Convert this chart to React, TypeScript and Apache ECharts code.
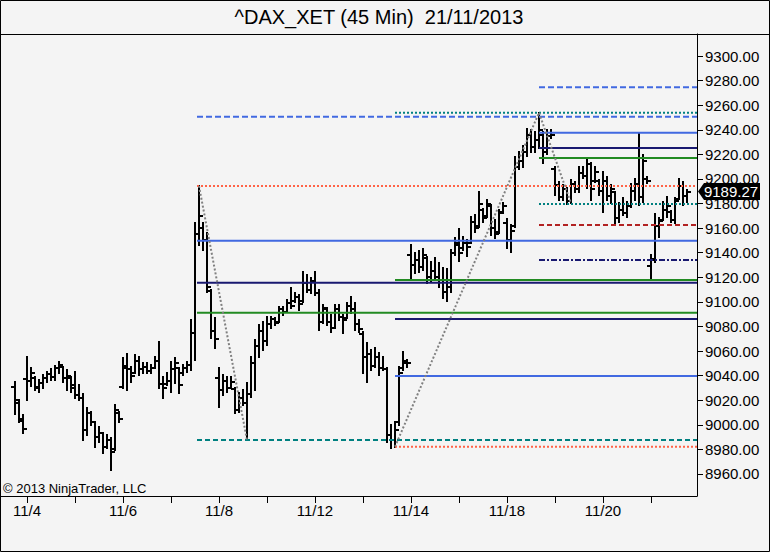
import React, { useEffect, useRef } from 'react';
import * as echarts from 'echarts';

const TITLE = '^DAX_XET (45 Min)\u00a0 21/11/2013';
const COPYRIGHT = '\u00a9 2013 NinjaTrader, LLC';

// trading days (first bar index of each day) and their labels
const dayStarts = [3, 15, 27, 39, 51, 63, 75, 87, 99, 111, 123, 135, 147, 159];
const dayLabels = ['11/4', '11/5', '11/6', '11/7', '11/8', '11/11', '11/12', '11/13', '11/14', '11/15', '11/18', '11/19', '11/20', '11/21'];
const labeledDays = ['11/4', '11/6', '11/8', '11/12', '11/14', '11/18', '11/20'];

const priceTicks = [8960, 8980, 9000, 9020, 9040, 9060, 9080, 9100, 9120, 9140, 9160, 9180, 9200, 9220, 9240, 9260, 9280, 9300];

// 45-min OHLC bars
const opens = [
  9031, 9018, 9003, 9037, 9036, 9038, 9030, 9034, 9038, 9041, 9039, 9046, 9047, 9038, 9038, 9032, 9024, 9022, 8996, 9010,
  9002, 8990, 8993, 8982, 8988, 8980, 9010, 9031, 9046, 9045, 9042, 9052, 9045, 9047, 9044, 9046, 9052, 9033, 9033, 9036,
  9045, 9046, 9042, 9046, 9049, 9075, 9155, 9160, 9150, 9109, 9076, 9038, 9028, 9036, 9030, 9029, 9012, 9022, 9018, 9025,
  9050, 9064, 9076, 9068, 9082, 9086, 9084, 9094, 9092, 9099, 9101, 9104, 9101, 9115, 9110, 9117, 9107, 9084, 9094, 9084,
  9079, 9094, 9088, 9087, 9097, 9094, 9082, 9074, 9055, 9058, 9048, 9055, 9046, 9045, 8992, 8988, 9002, 9046, 9050, 9138,
  9130, 9134, 9128, 9136, 9120, 9125, 9120, 9118, 9108, 9112, 9140, 9146, 9144, 9148, 9148, 9165, 9162, 9175, 9170, 9178,
  9160, 9157, 9173, 9164, 9150, 9162, 9210, 9215, 9222, 9236, 9226, 9232, 9236, 9222, 9235, 9208, 9195, 9185, 9192, 9182,
  9196, 9192, 9205, 9202, 9212, 9198, 9198, 9190, 9198, 9186, 9189, 9168, 9175, 9172, 9178, 9190, 9196, 9185, 9200, 9129,
  9135, 9162, 9167, 9175, 9173, 9167, 9184, 9194, 9186,
];
const highs = [
  9034.6, 9020.2, 9008.0, 9054.9, 9046.5, 9039.1, 9036.5, 9040.5, 9042.7, 9045.4, 9048.1, 9050.9, 9047.3, 9044.6, 9039.1, 9043.2, 9032.4, 9024.8, 9013.4, 9010.7,
  9002.5, 8998.5, 8993.1, 8991.7, 8989.0, 9016.1, 9010.7, 9054.1, 9058.0, 9047.3, 9056.8, 9055.4, 9050.0, 9050.0, 9048.6, 9055.4, 9067.6, 9039.1, 9041.9, 9051.3,
  9054.1, 9046.0, 9048.6, 9051.3, 9085.3, 9163.9, 9194.3, 9163.9, 9155.8, 9109.7, 9086.6, 9046.0, 9040.5, 9039.1, 9039.1, 9029.7, 9025.6, 9028.3, 9033.8, 9055.4,
  9069.0, 9081.2, 9083.9, 9087.9, 9087.9, 9086.6, 9096.1, 9096.1, 9101.5, 9111.0, 9106.9, 9105.6, 9124.5, 9121.9, 9119.2, 9124.5, 9109.7, 9097.5, 9094.8, 9089.3,
  9097.5, 9097.5, 9089.3, 9098.8, 9104.2, 9098.8, 9085.3, 9075.7, 9066.3, 9060.9, 9062.2, 9058.2, 9055.4, 9046.0, 8999.8, 9002.5, 9047.3, 9059.5, 9052.7, 9146.3,
  9139.5, 9141.4, 9143.0, 9136.7, 9132.7, 9135.4, 9131.4, 9127.3, 9126.8, 9142.2, 9151.7, 9159.3, 9153.0, 9150.3, 9169.3, 9170.7, 9189.1, 9175.5, 9182.9, 9178.8,
  9166.6, 9174.7, 9180.2, 9167.4, 9162.5, 9218.1, 9222.2, 9227.0, 9240.6, 9239.8, 9238.4, 9253.9, 9238.4, 9239.8, 9239.8, 9210.0, 9197.8, 9195.0, 9192.4, 9199.1,
  9197.8, 9210.0, 9210.0, 9216.8, 9212.7, 9210.0, 9199.1, 9205.9, 9201.8, 9195.0, 9189.6, 9180.2, 9184.2, 9181.5, 9195.6, 9199.9, 9237.1, 9219.5, 9201.8, 9138.1,
  9171.2, 9168.5, 9181.5, 9185.6, 9173.9, 9184.2, 9199.9, 9197.8, 9191.0,
];
const lows = [
  9008.8, 9002.5, 8993.1, 9020.2, 9031.8, 9028.3, 9026.9, 9030.2, 9034.6, 9036.5, 9036.5, 9041.9, 9035.1, 9028.3, 9026.9, 9021.6, 9020.2, 8987.6, 8991.7, 8999.8,
  8982.2, 8986.3, 8976.8, 8980.9, 8963.2, 8979.5, 9002.5, 9029.7, 9028.3, 9035.1, 9041.9, 9040.5, 9041.9, 9041.9, 9041.9, 9045.9, 9029.7, 9021.6, 9032.4, 9026.9,
  9033.8, 9025.6, 9040.5, 9043.2, 9044.6, 9052.7, 9146.3, 9142.2, 9108.3, 9070.4, 9062.2, 9014.7, 9024.3, 9026.9, 9029.7, 9009.4, 9010.7, 9016.1, 8987.6, 9022.9,
  9028.3, 9055.4, 9060.9, 9064.9, 9078.5, 9081.2, 9083.9, 9089.3, 9092.0, 9094.8, 9100.2, 9093.4, 9100.2, 9108.3, 9107.0, 9105.6, 9077.1, 9082.5, 9081.2, 9075.7,
  9078.5, 9085.3, 9074.4, 9086.6, 9090.7, 9077.1, 9075.7, 9041.9, 9035.1, 9044.6, 9047.3, 9040.5, 9044.6, 8986.3, 8980.9, 8982.2, 8999.8, 9044.6, 9047.3, 9119.2,
  9123.2, 9124.5, 9125.9, 9115.1, 9116.4, 9117.8, 9112.3, 9103.4, 9100.7, 9108.3, 9138.1, 9133.2, 9142.2, 9137.5, 9147.6, 9157.1, 9161.1, 9165.2, 9169.3, 9154.4,
  9152.2, 9155.8, 9172.0, 9144.1, 9140.8, 9161.1, 9208.0, 9210.0, 9218.9, 9221.7, 9222.2, 9225.0, 9212.7, 9220.0, 9233.0, 9186.9, 9182.9, 9182.9, 9179.4, 9180.2,
  9189.6, 9189.6, 9200.5, 9192.4, 9182.9, 9197.8, 9186.9, 9173.3, 9182.9, 9180.2, 9163.9, 9165.2, 9170.7, 9169.3, 9177.4, 9182.9, 9178.8, 9181.5, 9196.4, 9119.2,
  9132.7, 9153.0, 9166.6, 9169.3, 9164.7, 9163.9, 9183.7, 9178.8, 9181.5,
];
const closes = [
  9020, 9005, 8997, 9036, 9042, 9031, 9034, 9038, 9041, 9039, 9046, 9049, 9038, 9040, 9030, 9024, 9022, 8996, 9010, 9002,
  8990, 8993, 8982, 8988, 8978, 9012, 9005, 9048, 9045, 9040, 9052, 9045, 9047, 9044, 9046, 9052, 9033, 9030, 9036, 9045,
  9050, 9032, 9046, 9049, 9075, 9155, 9170, 9150, 9112, 9076, 9070, 9028, 9036, 9030, 9035, 9012, 9022, 9018, 9025, 9050,
  9064, 9076, 9068, 9082, 9086, 9083, 9094, 9092, 9099, 9097, 9104, 9098, 9115, 9110, 9117, 9107, 9084, 9095, 9084, 9079,
  9094, 9088, 9085, 9097, 9094, 9082, 9078, 9055, 9058, 9048, 9055, 9046, 9045, 8992, 8988, 8996, 9042, 9052, 9050, 9130,
  9134, 9128, 9138, 9120, 9125, 9120, 9118, 9108, 9112, 9140, 9148, 9140, 9148, 9145, 9165, 9160, 9180, 9168, 9180, 9160,
  9155, 9172, 9178, 9150, 9158, 9210, 9215, 9222, 9236, 9226, 9232, 9240, 9222, 9235, 9236, 9195, 9185, 9192, 9182, 9196,
  9192, 9205, 9202, 9212, 9192, 9206, 9190, 9198, 9186, 9192, 9168, 9175, 9172, 9178, 9190, 9196, 9185, 9215, 9198, 9134,
  9162, 9166, 9175, 9178, 9167, 9182, 9194, 9186, 9189.27,
];

// horizontal levels (value, first bar)
const levelValues = [9274.5, 9253.9, 9250.5, 9237.6, 9225.2, 9217.0, 9194.3, 9179.6, 9162.5, 9149.8, 9134.1, 9117.8, 9115.6, 9091.2, 9086.1, 9039.7, 8987.6, 8982.2];
const levelStartBars = [131, 95, 45.5, 131, 131, 131, 45.5, 131, 131, 45.5, 131, 95, 45.5, 45.5, 95, 95, 45.5, 95];

// zigzag swings
const zigzag1Bars = [46, 58];
const zigzag1Values = [9194.3, 8987.6];
const zigzag2Bars = [95, 131, 139];
const zigzag2Values = [8982.2, 9253.9, 9180.2];

// styles (not data)
const BLUE = '#4169e1';
const TEAL = '#008080';
const NAVY = '#191970';
const GREEN = '#228b22';
const TOMATO = '#ff6347';
const FIREBRICK = '#b22222';
const DASH = [6, 3];
const DOT = [2, 2];
const DASHDOT = [6, 2, 2, 2];
const levelStyles: { color: string; type: any }[] = [
  { color: BLUE, type: DASH },
  { color: TEAL, type: DOT },
  { color: BLUE, type: DASH },
  { color: BLUE, type: 'solid' },
  { color: NAVY, type: 'solid' },
  { color: GREEN, type: 'solid' },
  { color: TOMATO, type: DOT },
  { color: TEAL, type: DOT },
  { color: FIREBRICK, type: [5, 3] },
  { color: BLUE, type: 'solid' },
  { color: NAVY, type: DASHDOT },
  { color: GREEN, type: 'solid' },
  { color: NAVY, type: 'solid' },
  { color: GREEN, type: 'solid' },
  { color: NAVY, type: 'solid' },
  { color: BLUE, type: 'solid' },
  { color: TEAL, type: [5, 3] },
  { color: TOMATO, type: DOT },
];

const X_MIN = -3.75;
const X_MAX = 170.5;
const Y_MIN = 8942.1;
const Y_MAX = 9317.9;
const NARROW = '"Liberation Sans Narrow", "Liberation Sans", Arial, sans-serif';
const SANS = '"Liberation Sans", Arial, sans-serif';

function buildOption(priceY: number | null): any {
  const series: any[] = [];
  series.push({
    type: 'custom',
    silent: true,
    z: 2,
    data: opens.map((o, i) => [i, o, highs[i], lows[i], closes[i]]),
    encode: { x: 0, y: [1, 2, 3, 4] },
    renderItem: (params: any, api: any) => {
      const i = api.value(0);
      const pO = api.coord([i, api.value(1)]);
      const pH = api.coord([i, api.value(2)]);
      const pL = api.coord([i, api.value(3)]);
      const pC = api.coord([i, api.value(4)]);
      const x = Math.round(pH[0]);
      const style = { stroke: '#000', lineWidth: 2 };
      const yo = Math.round(pO[1]);
      const yc = Math.round(pC[1]);
      return {
        type: 'group',
        children: [
          { type: 'line', shape: { x1: x, y1: Math.round(pH[1]) - 1, x2: x, y2: Math.round(pL[1]) + 1 }, style },
          { type: 'line', shape: { x1: x - 4, y1: yo, x2: x, y2: yo }, style },
          { type: 'line', shape: { x1: x, y1: yc, x2: x + 4, y2: yc }, style },
        ],
      };
    },
  });
  levelValues.forEach((v, k) => {
    series.push({
      type: 'line',
      silent: true,
      z: 3,
      symbol: 'none',
      data: [[levelStartBars[k], v], [X_MAX, v]],
      lineStyle: { color: levelStyles[k].color, width: 2, type: levelStyles[k].type, cap: 'butt' },
    });
  });
  [[zigzag1Bars, zigzag1Values], [zigzag2Bars, zigzag2Values]].forEach(([bars, vals]) => {
    series.push({
      type: 'line',
      silent: true,
      z: 4,
      symbol: 'none',
      data: bars.map((b, k) => [b, vals[k]]),
      lineStyle: { color: '#808080', width: 2, type: DOT, cap: 'butt' },
    });
  });

  const graphic: any[] = [
    {
      type: 'rect',
      z: 100,
      shape: { x: 0.5, y: 0.5, width: 769, height: 551 },
      style: { fill: 'none', stroke: '#000', lineWidth: 1 },
      silent: true,
    },
    {
      type: 'line',
      z: 100,
      shape: { x1: 0, y1: 34.5, x2: 770, y2: 34.5 },
      style: { stroke: '#000', lineWidth: 1 },
      silent: true,
    },
    {
      type: 'text',
      z: 100,
      x: 379,
      y: 17,
      style: { text: TITLE, fontSize: 20, fontFamily: SANS, fill: '#000', align: 'center', verticalAlign: 'middle' },
      silent: true,
    },
    {
      type: 'text',
      z: 100,
      x: 3,
      y: 488,
      style: { text: COPYRIGHT, fontSize: 13, fontFamily: SANS, fill: '#000', align: 'left', verticalAlign: 'middle' },
      silent: true,
    },
  ];
  if (priceY !== null) {
    const py = Math.round(priceY) - 0.5;
    graphic.push({
      type: 'polygon',
      z: 110,
      shape: { points: [[698, py], [704, py - 8.5], [760, py - 8.5], [760, py + 8.5], [704, py + 8.5]] },
      style: { fill: '#000' },
      silent: true,
    });
    graphic.push({
      type: 'text',
      z: 111,
      x: 731,
      y: py,
      style: {
        text: closes[closes.length - 1].toFixed(2),
        fontSize: 15,
        fontFamily: NARROW,
        fill: '#fff',
        align: 'center',
        verticalAlign: 'middle',
      },
      silent: true,
    });
  }

  return {
    animation: false,
    backgroundColor: '#f4f4f4',
    grid: { left: 0, right: 73, top: 34, bottom: 56, containLabel: false },
    xAxis: {
      type: 'value',
      min: X_MIN,
      max: X_MAX,
      axisLine: { show: true, onZero: false, lineStyle: { color: '#000', width: 1 } },
      axisTick: { show: true, customValues: dayStarts, length: 7, lineStyle: { color: '#000' } },
      axisLabel: {
        show: true,
        customValues: dayStarts.filter((s, k) => labeledDays.indexOf(dayLabels[k]) >= 0),
        formatter: (v: number) => dayLabels[dayStarts.indexOf(Math.round(v))] || '',
        color: '#000',
        fontSize: 15,
        fontFamily: NARROW,
        margin: 7,
      },
      splitLine: { show: false },
    },
    yAxis: {
      type: 'value',
      position: 'right',
      min: Y_MIN,
      max: Y_MAX,
      axisLine: { show: true, onZero: false, lineStyle: { color: '#000', width: 1 } },
      axisTick: { show: true, customValues: priceTicks, length: 6, lineStyle: { color: '#000' } },
      axisLabel: {
        show: true,
        customValues: priceTicks,
        formatter: (v: number) => v.toFixed(2),
        color: '#000',
        fontSize: 15,
        fontFamily: NARROW,
        margin: 8,
      },
      splitLine: { show: false },
    },
    graphic,
    series,
  };
}

export default function App() {
  const ref = useRef<HTMLDivElement>(null);
  useEffect(() => {
    document.body.style.margin = '0';
    if (!ref.current) return;
    const chart = echarts.init(ref.current, undefined, { renderer: 'svg', width: 770, height: 552 });
    chart.setOption(buildOption(null));
    const py = chart.convertToPixel({ yAxisIndex: 0 }, closes[closes.length - 1]) as number;
    chart.setOption(buildOption(py), true);
    return () => {
      chart.dispose();
    };
  }, []);
  return (
    <div
      ref={ref}
      style={{ position: 'fixed', left: 0, top: 0, width: 770, height: 552 }}
    />
  );
}
